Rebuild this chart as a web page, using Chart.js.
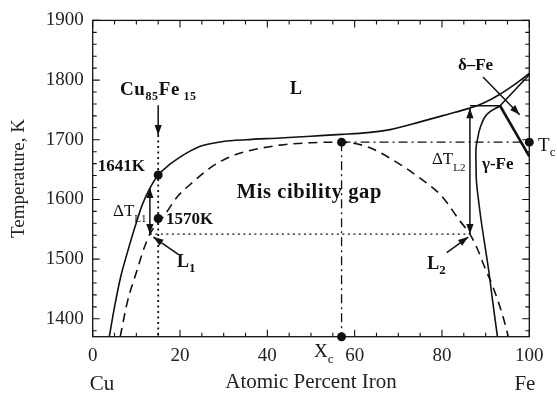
<!DOCTYPE html>
<html><head><meta charset="utf-8">
<script src="https://cdn.jsdelivr.net/npm/chart.js@4/dist/chart.umd.min.js"></script>
<style>html,body{margin:0;padding:0;background:#fff;overflow:hidden}</style>
</head><body>
<canvas id="c" width="557" height="396" style="width:557px;height:396px;display:block"></canvas>
<script>
// ---- data ----
const xTickValues = [0, 20, 40, 60, 80, 100];
const yTickValues = [1400, 1500, 1600, 1700, 1800, 1900];

// liquidus (solid)
const liquidusX = [3.8, 5.0, 6.4, 7.9, 9.6, 11.3, 13.1, 15.0, 17.7, 20.0, 22.3, 25.0, 29.9, 35.0, 42.9, 50.0, 57.0, 63.0, 68.1, 75.0, 80.0, 83.0, 86.4, 89.4, 93.0, 96.5, 100.0];
const liquidusT = [1370, 1420, 1470, 1510, 1552, 1590, 1619, 1641, 1659, 1671, 1681, 1690, 1697, 1700, 1703, 1706, 1709, 1712, 1717, 1730, 1740, 1746, 1753, 1761, 1775, 1792, 1811];

// miscibility gap binodal (dashed)
const gapX = [6.3, 8.0, 10.1, 11.6, 13.1, 16.6, 19.2, 23.1, 26.9, 30.7, 35.0, 42.9, 50.0, 57.0, 63.0, 68.1, 74.9, 80.0, 84.1, 86.4, 88.3, 89.8, 91.7, 94.0, 95.2];
const gapT = [1370, 1430, 1480, 1515, 1542, 1575, 1603, 1630, 1653, 1669, 1680, 1691, 1695, 1696, 1688, 1669, 1636, 1605, 1564, 1542, 1514, 1486, 1453, 1403, 1370];

// gamma-Fe boundary (solid)
const gammaX = [93.3, 90.2, 88.7, 88.2, 87.8, 87.8, 87.9, 88.4, 89.1, 90.6, 91.6, 92.7];
const gammaT = [1757, 1742, 1719, 1703, 1686, 1660, 1630, 1597, 1558, 1486, 1430, 1370];

// peritectic line, delta solidus, delta/gamma boundary
const peritecticX = [86.4, 93.3];
const peritecticT = [1757, 1757];
const deltaSolidusX = [93.3, 100];
const deltaSolidusT = [1757, 1809];
const deltaGammaX = [93.3, 100];
const deltaGammaT = [1757, 1672];

// critical point guides
const Xc = 57.0, Tc = 1696;
const tcLineX = [Xc, 100], tcLineT = [Tc, Tc];
const xcLineX = [Xc, Xc], xcLineT = [Tc, 1370];

// Cu85Fe15 composition (dotted) and undercooling level (dotted)
const compX = [15, 15], compT = [1708, 1370];
const levelX = [13.1, 86.4], levelT = [1542, 1542];

// marked points
const pointX = [15, 15, Xc, Xc, 100];
const pointT = [1641, 1568, Tc, 1370, Tc];

// arrows
const arrowCompX = [15, 15], arrowCompT = [1758, 1708];
const dTL1X = [13.1, 13.1], dTL1T = [1542, 1619];
const dTL2X = [86.4, 86.4], dTL2T = [1542, 1753];
const L1ArrowX = [19.6, 13.9], L1ArrowT = [1508, 1537];
const L2ArrowX = [81.1, 86.0], L2ArrowT = [1511, 1537];
const deltaArrowX = [89.4, 97.8], deltaArrowT = [1805, 1742];

// ---- helpers ----
const SERIF = '"Liberation Serif","Times New Roman",serif';
const INK = '#111';
const pts = (xs, ts) => xs.map((x, i) => ({x: x, y: ts[i]}));
function lineDs(xs, ts, opts) {
  return Object.assign({data: pts(xs, ts), showLine: true, pointRadius: 0, borderColor: INK,
    borderWidth: 1.6, fill: false, tension: 0}, opts);
}

const arrows = [
  {xs: arrowCompX, ts: arrowCompT, start: false, end: true},
  {xs: dTL1X, ts: dTL1T, start: true, end: true},
  {xs: dTL2X, ts: dTL2T, start: true, end: true},
  {xs: L1ArrowX, ts: L1ArrowT, start: false, end: true},
  {xs: L2ArrowX, ts: L2ArrowT, start: false, end: true},
  {xs: deltaArrowX, ts: deltaArrowT, start: false, end: true}
];

// text annotations: anchor in data units, parts = [text, bold, size, dy]
const notes = [
  {x: 6.25, t: 1775.5, align: 'left', sp: 0.6, parts: [['Cu', 1, 19, 0], ['85', 1, 12, 5], ['Fe', 1, 19, 0], [' 15', 1, 12, 5]]},
  {x: 45.2, t: 1777, align: 'left', parts: [['L', 1, 18, 0]]},
  {x: 12.0, t: 1647, align: 'right', parts: [['1641K', 1, 17, 0]]},
  {x: 16.8, t: 1559, align: 'left', parts: [['1570K', 1, 17, 0]]},
  {x: 4.65, t: 1572, align: 'left', parts: [['\u0394T', 0, 17, 0], ['L1', 0, 11, 6]]},
  {x: 19.3, t: 1487, align: 'left', parts: [['L', 1, 18, 0], ['1', 1, 13, 5]]},
  {x: 33.0, t: 1602, align: 'left', sp: 0.6, parts: [['Mis cibility gap', 1, 20.5, 0]]},
  {x: 83.65, t: 1817, align: 'left', parts: [['\u03b4\u2013Fe', 1, 17, 0]]},
  {x: 102.0, t: 1680.5, align: 'left', parts: [['T', 0, 19, 0], ['c', 0, 13, 5]]},
  {x: 77.7, t: 1659, align: 'left', parts: [['\u0394T', 0, 17, 0], ['L2', 0, 11, 7]]},
  {x: 89.15, t: 1650.5, align: 'left', parts: [['\u03b3-Fe', 1, 17, 0]]},
  {x: 76.6, t: 1484, align: 'left', parts: [['L', 1, 18, 0], ['2', 1, 13, 5]]},
  {x: 50.7, t: 1336, align: 'left', parts: [['X', 0, 19, 0], ['c', 0, 13, 6]]}
];

function drawRich(ctx, parts, x, y, align, sp) {
  ctx.letterSpacing = (sp || 0) + 'px';
  let w = 0;
  parts.forEach(p => { ctx.font = (p[1] ? 'bold ' : '') + p[2] + 'px ' + SERIF; w += ctx.measureText(p[0]).width; });
  let cx = align === 'right' ? x - w : x;
  parts.forEach(p => {
    ctx.font = (p[1] ? 'bold ' : '') + p[2] + 'px ' + SERIF;
    ctx.fillText(p[0], cx, y + p[3]);
    cx += ctx.measureText(p[0]).width;
  });
  ctx.letterSpacing = '0px';
}

function head(ctx, x1, y1, x2, y2) {
  const a = Math.atan2(y2 - y1, x2 - x1), L = 10, W = 3.6;
  ctx.beginPath();
  ctx.moveTo(x2, y2);
  ctx.lineTo(x2 - L * Math.cos(a) + W * Math.sin(a), y2 - L * Math.sin(a) - W * Math.cos(a));
  ctx.lineTo(x2 - L * Math.cos(a) - W * Math.sin(a), y2 - L * Math.sin(a) + W * Math.cos(a));
  ctx.closePath();
  ctx.fill();
}

const decor = {
  id: 'decor',
  afterDraw(chart) {
    const {ctx, chartArea: a, scales: {x, y}} = chart;
    ctx.save();
    ctx.strokeStyle = INK; ctx.fillStyle = INK;
    // frame
    ctx.lineWidth = 1.3;
    ctx.strokeRect(a.left, a.top, a.right - a.left, a.bottom - a.top);
    // inward ticks on all four sides
    ctx.lineWidth = 1.1;
    ctx.beginPath();
    for (let v = 0; v <= 100; v += 5) {
      const px = x.getPixelForValue(v), len = v % 20 === 0 ? 7 : 4;
      ctx.moveTo(px, a.bottom); ctx.lineTo(px, a.bottom - len);
      ctx.moveTo(px, a.top); ctx.lineTo(px, a.top + len);
    }
    for (let v = 1380; v <= 1900; v += 20) {
      const py = y.getPixelForValue(v), len = v % 100 === 0 ? 7 : 4;
      ctx.moveTo(a.left, py); ctx.lineTo(a.left + len, py);
      ctx.moveTo(a.right, py); ctx.lineTo(a.right - len, py);
    }
    ctx.stroke();
    // arrows
    ctx.lineWidth = 1.5;
    arrows.forEach(ar => {
      const x1 = x.getPixelForValue(ar.xs[0]), y1 = y.getPixelForValue(ar.ts[0]);
      const x2 = x.getPixelForValue(ar.xs[1]), y2 = y.getPixelForValue(ar.ts[1]);
      ctx.beginPath(); ctx.moveTo(x1, y1); ctx.lineTo(x2, y2); ctx.stroke();
      if (ar.end) head(ctx, x1, y1, x2, y2);
      if (ar.start) head(ctx, x2, y2, x1, y1);
    });
    // text notes
    ctx.fillStyle = '#111';
    ctx.textBaseline = 'alphabetic';
    ctx.textAlign = 'left';
    notes.forEach(n => drawRich(ctx, n.parts, x.getPixelForValue(n.x), y.getPixelForValue(n.t), n.align, n.sp));
    // end labels under the x axis
    ctx.font = '21px ' + SERIF;
    ctx.fillStyle = '#222';
    ctx.textBaseline = 'middle';
    ctx.textAlign = 'left';
    ctx.fillText('Cu', x.getPixelForValue(0) - 3, 384);
    ctx.textAlign = 'center';
    ctx.fillText('Fe', x.getPixelForValue(99), 384);
    ctx.restore();
  }
};

new Chart(document.getElementById('c'), {
  type: 'scatter',
  data: {
    datasets: [
      lineDs(liquidusX, liquidusT, {cubicInterpolationMode: 'monotone'}),
      lineDs(gapX, gapT, {borderDash: [9, 6], cubicInterpolationMode: 'monotone'}),
      lineDs(gammaX, gammaT, {tension: 0.4}),
      lineDs(peritecticX, peritecticT, {}),
      lineDs(deltaSolidusX, deltaSolidusT, {}),
      lineDs(deltaGammaX, deltaGammaT, {borderWidth: 2.6}),
      lineDs(tcLineX, tcLineT, {borderWidth: 1.3, borderDash: [9, 4, 2, 4]}),
      lineDs(xcLineX, xcLineT, {borderWidth: 1.3, borderDash: [9, 4, 2, 4]}),
      lineDs(compX, compT, {borderWidth: 1.8, borderDash: [2, 3.5]}),
      lineDs(levelX, levelT, {borderWidth: 1.3, borderDash: [2, 3.5]}),
      {data: pts(pointX, pointT), showLine: false, pointRadius: 4.5, pointBackgroundColor: INK,
       pointBorderColor: INK, pointBorderWidth: 0, clip: false}
    ]
  },
  options: {
    responsive: false, animation: false, devicePixelRatio: 1,
    layout: {padding: {left: 0, right: 27.7, top: 18.3, bottom: 0}},
    plugins: {legend: {display: false}, tooltip: {enabled: false}},
    scales: {
      x: {
        type: 'linear', min: 0, max: 100,
        grid: {display: false, drawTicks: false}, border: {display: false},
        ticks: {stepSize: 20, padding: 8, color: '#222', font: {family: SERIF, size: 19},
          callback: v => xTickValues.includes(v) ? String(v) : ''},
        title: {display: true, text: 'Atomic Percent Iron', color: '#222', font: {family: SERIF, size: 21}, padding: {top: 0, bottom: 1}},
        afterFit: s => { s.height = 59.3; }
      },
      y: {
        type: 'linear', min: 1370, max: 1900,
        grid: {display: false, drawTicks: false}, border: {display: false},
        ticks: {stepSize: 100, includeBounds: false, padding: 9, color: '#222', font: {family: SERIF, size: 19},
          callback: v => yTickValues.includes(v) ? String(v) : ''},
        title: {display: true, text: 'Temperature, K', color: '#222', font: {family: SERIF, size: 19}, padding: {top: 8, bottom: 0}},
        afterFit: s => { s.width = 92.7; }
      }
    }
  },
  plugins: [decor]
});
</script>
</body></html>
